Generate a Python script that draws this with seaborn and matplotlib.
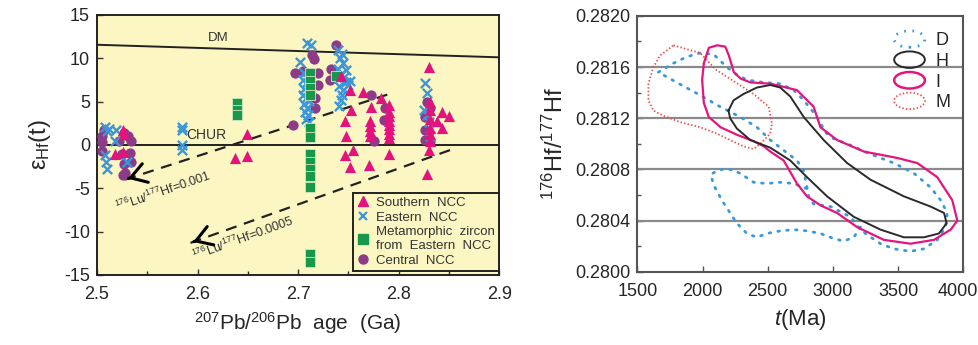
import numpy as np
import pandas as pd
import matplotlib
matplotlib.use("Agg")
import matplotlib.pyplot as plt
import matplotlib.patches as mpatches
import matplotlib.transforms as mtransforms
from matplotlib.lines import Line2D
from matplotlib.legend_handler import HandlerPatch
import seaborn as sns

# ---------------- data: left panel (207Pb/206Pb age vs eHf(t)) ----------------
south_age = [2.526, 2.527, 2.518, 2.526, 2.637, 2.649, 2.649,
             2.743, 2.752, 2.765, 2.753, 2.772, 2.747, 2.771, 2.771, 2.771, 2.771, 2.748,
             2.747, 2.755, 2.752, 2.770, 2.782,
             2.790, 2.790, 2.790, 2.790, 2.790, 2.790, 2.790, 2.790, 2.790,
             2.830, 2.843, 2.843, 2.838, 2.831, 2.831, 2.831, 2.831, 2.831, 2.831, 2.830, 2.828, 2.850]
south_eps = [1.7, 1.2, -1.0, -0.8, -1.5, 1.3, -1.3,
             7.9, 6.3, 6.1, 4.0, 4.4, 2.7, 2.7, 2.2, 1.6, 1.0, 1.0,
             -1.2, -0.6, -2.5, -2.3, 5.4,
             4.6, 3.8, 3.3, 2.8, 2.3, 1.8, 1.3, 0.8, -1.0,
             9.0, 3.8, 1.9, 2.7, 5.0, 4.0, 3.0, 2.0, 1.2, 0.5, -0.6, -3.3, 3.3]

east_age = [2.508, 2.510, 2.508, 2.509, 2.510, 2.512, 2.518, 2.519, 2.530,
            2.585, 2.585, 2.585, 2.585,
            2.709, 2.713, 2.702, 2.706, 2.709, 2.705, 2.708, 2.711, 2.706, 2.709, 2.705,
            2.708, 2.711, 2.706, 2.709, 2.707, 2.710, 2.708, 2.711,
            2.740, 2.744, 2.742, 2.745, 2.740, 2.743, 2.746, 2.748, 2.741, 2.745, 2.744,
            2.743, 2.741, 2.748, 2.750, 2.752,
            2.826, 2.828, 2.825, 2.828, 2.830, 2.831]
east_eps = [2.1, 1.6, -1.2, -2.0, -2.8, 1.8, 0.4, 1.7, -2.0,
            2.1, 1.7, 0.0, -0.6,
            11.7, 11.5, 9.6, 8.3, 7.9, 7.5, 7.1, 6.8, 6.5, 6.1, 5.8,
            5.4, 5.1, 4.7, 4.3, 3.8, 3.4, 3.0, 2.6,
            11.0, 10.5, 10.0, 9.4, 8.8, 8.2, 7.8, 7.2, 6.8, 6.3, 5.8,
            5.2, 4.5, 8.6, 6.9, 7.4,
            7.1, 6.0, 4.0, 3.5, 2.6, 1.0]

meta_age = [2.639, 2.639, 2.639,
            2.712, 2.712, 2.712, 2.712,
            2.712, 2.712, 2.712, 2.712, 2.712, 2.712, 2.712, 2.712, 2.712,
            2.738]
meta_eps = [4.8, 4.0, 3.4,
            8.3, 7.4, 6.6, 5.8,
            1.9, 0.9, -1.0, -2.0, -2.8, -3.6, -4.9, -12.6, -13.5,
            8.0]

central_age = [2.505, 2.505, 2.505, 2.507, 2.522, 2.527, 2.531, 2.534, 2.534, 2.527,
               2.533, 2.528, 2.526, 2.525,
               2.695, 2.697, 2.705, 2.714, 2.716, 2.720, 2.720, 2.717, 2.717,
               2.738, 2.733, 2.732,
               2.772, 2.775, 2.786, 2.785,
               2.828, 2.831, 2.826, 2.826, 2.826, 2.831]
central_eps = [1.0, 0.3, -0.7, 1.7, 0.5, 1.4, 1.0, 0.5, -2.0, -2.2,
               -0.9, -3.2, -3.5, -1.0,
               2.3, 8.3, 8.5, 10.4, 9.9, 8.3, 6.9, 5.4, 4.2,
               11.5, 8.8, 7.5,
               5.8, 0.4, 4.2, 2.9,
               5.0, 4.3, 3.2, 1.7, 0.6, 0.5]

dm_age = [2.5, 2.9]
dm_eps = [11.55, 10.1]
lu001_age = [2.528, 2.793]
lu001_eps = [-4.0, 5.96]
lu0005_age = [2.593, 2.851]
lu0005_eps = [-11.3, -0.6]

# ---------------- data: right panel contours (t Ma, 176Hf/177Hf) ----------------
d_main_t = [1661, 1777, 1879, 1982, 2084, 2186, 2263, 2340, 2468, 2596, 2699, 2776, 2840, 2891,
            2942, 3006, 3134, 3288, 3467, 3621, 3749, 3826, 3877, 3864, 3800, 3698, 3595, 3467,
            3365, 3262, 3211, 3134, 2981, 2852, 2814, 2801, 2776, 2724, 2520, 2417, 2289, 2135,
            1982, 1802]
d_main_r = [0.28156, 0.28163, 0.28168, 0.28171, 0.28170, 0.28160, 0.28154, 0.28150, 0.28148,
            0.28147, 0.28142, 0.28134, 0.28126, 0.28119, 0.28109, 0.28104, 0.28099, 0.28092,
            0.28085, 0.28077, 0.28066, 0.28056, 0.28046, 0.28035, 0.28025, 0.28018, 0.28016,
            0.28018, 0.28022, 0.28029, 0.28033, 0.28043, 0.28051, 0.28053, 0.28059, 0.28066,
            0.28079, 0.28087, 0.28103, 0.28113, 0.28121, 0.28129, 0.28138, 0.28148]
d_lobe_t = [3211, 3160, 3083, 3006, 2904, 2801, 2699, 2596, 2494, 2417, 2340, 2263, 2212, 2148,
            2084, 2064, 2110, 2186, 2289, 2391, 2494, 2596, 2699, 2801]
d_lobe_r = [0.28035, 0.28027, 0.28024, 0.28026, 0.28030, 0.28032, 0.28033, 0.28032, 0.28030,
            0.28027, 0.28030, 0.28038, 0.28046, 0.28056, 0.28068, 0.28076, 0.28079, 0.28081,
            0.28077, 0.28070, 0.28069, 0.28070, 0.28069, 0.28065]
h_t = [2199, 2238, 2315, 2417, 2520, 2596, 2673, 2776, 2929, 3109, 3288, 3544, 3749, 3852, 3872,
       3813, 3698, 3544, 3365, 3160, 2955, 2801, 2673, 2520, 2366, 2263, 2212]
h_r = [0.28126, 0.28134, 0.28139, 0.28144, 0.28146, 0.28144, 0.28137, 0.28121, 0.28103, 0.28085,
       0.28072, 0.28059, 0.28051, 0.28046, 0.28038, 0.28030, 0.28027, 0.28027, 0.28033, 0.28043,
       0.28059, 0.28074, 0.28087, 0.28097, 0.28103, 0.28112, 0.28120]
i_t = [2010, 2048, 2112, 2174, 2202, 2240, 2292, 2368, 2522, 2724, 2852, 2904, 3032, 3237, 3493,
       3647, 3800, 3915, 3954, 3903, 3775, 3595, 3390, 3185, 3032, 2904, 2801, 2724, 2622, 2520,
       2471, 2394, 2266, 2138, 2048, 2010, 1997]
i_r = [0.28163, 0.28175, 0.28177, 0.28176, 0.28169, 0.28156, 0.28151, 0.28148, 0.28147, 0.28142,
       0.28129, 0.28113, 0.28103, 0.28094, 0.28089, 0.28085, 0.28074, 0.28056, 0.28040, 0.28033,
       0.28025, 0.28022, 0.28025, 0.28035, 0.28046, 0.28052, 0.28059, 0.28069, 0.28087, 0.28094,
       0.28098, 0.28102, 0.28107, 0.28113, 0.28121, 0.28132, 0.28150]
m_t = [1777, 1982, 2102, 2391, 2507, 2532, 2519, 2443, 2391, 2315, 2212, 2110, 1982, 1828, 1700,
       1623, 1585, 1585, 1623, 1674]
m_r = [0.28177, 0.28171, 0.28158, 0.28139, 0.28129, 0.28116, 0.28108, 0.28100, 0.28096, 0.28098,
       0.28103, 0.28108, 0.28113, 0.28117, 0.28122, 0.28126, 0.28134, 0.28147, 0.28160, 0.28169]

# ---------------- style ----------------
sns.set_theme(style="white")
plt.rcParams["font.family"] = ["Liberation Sans", "DejaVu Sans"]
plt.rcParams["mathtext.fontset"] = "custom"
plt.rcParams["mathtext.rm"] = "Liberation Sans"
plt.rcParams["mathtext.it"] = "Liberation Sans:italic"
plt.rcParams["mathtext.bf"] = "Liberation Sans:bold"
plt.rcParams["axes.unicode_minus"] = False

PINK = "#e3127d"
BLUE = "#3b97d9"
GREEN = "#17984a"
PURPLE = "#8c3b88"
YELLOW = "#fcf6c2"

fig = plt.figure(figsize=(9.79, 3.45), dpi=100)
ax1 = fig.add_axes([0.099, 0.203, 0.411, 0.754])
ax2 = fig.add_axes([0.651, 0.212, 0.333, 0.742])

# ---------------- left panel ----------------
ax1.set_facecolor(YELLOW)
sns.lineplot(x=dm_age, y=dm_eps, color="#222222", lw=1.4, ax=ax1, zorder=2)
ax1.axhline(0, color="#222222", lw=1.4, zorder=2)
sns.lineplot(x=lu001_age, y=lu001_eps, color="#222222", lw=1.6, ax=ax1, zorder=2,
             linestyle=(0, (5, 3.5)))
sns.lineplot(x=lu0005_age, y=lu0005_eps, color="#222222", lw=1.6, ax=ax1, zorder=2,
             linestyle=(0, (5, 3.5)))
for xs, ys in [(lu001_age, lu001_eps), (lu0005_age, lu0005_eps)]:
    slope = (ys[1] - ys[0]) / (xs[1] - xs[0])
    ax1.annotate("", xy=(xs[0], ys[0]), xytext=(xs[0] + 0.006, ys[0] + slope * 0.006),
                 arrowprops=dict(arrowstyle="->,head_length=0.8,head_width=0.5",
                                 lw=2.2, color="black", mutation_scale=14), zorder=4)

df_c = pd.DataFrame({"age": central_age, "eps": central_eps})
df_e = pd.DataFrame({"age": east_age, "eps": east_eps})
df_m = pd.DataFrame({"age": meta_age, "eps": meta_eps})
df_s = pd.DataFrame({"age": south_age, "eps": south_eps})
sns.scatterplot(data=df_c, x="age", y="eps", marker="o", color=PURPLE, s=55,
                linewidth=0, ax=ax1, zorder=3, legend=False)
sns.scatterplot(data=df_e, x="age", y="eps", marker="x", color=BLUE, s=45,
                linewidth=1.7, ax=ax1, zorder=4, legend=False)
sns.scatterplot(data=df_m, x="age", y="eps", marker="s", color=GREEN, s=55,
                linewidth=0.6, edgecolor="#cfe9c0", ax=ax1, zorder=5, legend=False)
sns.scatterplot(data=df_s, x="age", y="eps", marker="^", color=PINK, s=65,
                linewidth=0, ax=ax1, zorder=5, legend=False)

ax1.text(2.621, 12.3, "DM", fontsize=9.5, color="#333333", ha="center", va="center")
ax1.text(2.589, 1.15, "CHUR", fontsize=10, color="#333333", ha="left", va="center")
ax1.text(2.521, -8.1, r"$^{176}$Lu/$^{177}$Hf=0.001", fontsize=9, color="#333333",
         rotation=19, rotation_mode="anchor", ha="left", va="bottom")
ax1.text(2.598, -13.7, r"$^{176}$Lu/$^{177}$Hf=0.0005", fontsize=9, color="#333333",
         rotation=20, rotation_mode="anchor", ha="left", va="bottom")

ax1.set_xlim(2.5, 2.9)
ax1.set_ylim(-15, 15)
ax1.set_xticks([2.5, 2.6, 2.7, 2.8, 2.9])
ax1.set_xticklabels(["2.5", "2.6", "2.7", "2.8", "2.9"])
ax1.set_xticks([2.55, 2.65, 2.75, 2.85], minor=True)
ax1.set_yticks([-15, -10, -5, 0, 5, 10, 15])
ax1.tick_params(axis="both", which="major", labelsize=13, direction="in", length=4,
                width=1, color="#333333")
ax1.tick_params(axis="x", which="major", pad=8)
ax1.tick_params(axis="y", which="major", pad=5)
ax1.tick_params(axis="x", which="minor", direction="in", length=3, width=1, bottom=True)
ax1.tick_params(axis="y", left=True)
ax1.tick_params(axis="x", bottom=True)
for sp in ax1.spines.values():
    sp.set_color("#222222")
    sp.set_linewidth(1.4)
ax1.set_xlabel(r"$^{207}$Pb/$^{206}$Pb  age  (Ga)", fontsize=15, labelpad=5)
ax1.set_ylabel(r"$\mathregular{\varepsilon_{Hf}}$(t)", fontsize=17, labelpad=8)

handles = [
    Line2D([], [], marker="^", color=PINK, linestyle="none", markersize=7),
    Line2D([], [], marker="x", color=BLUE, linestyle="none", markersize=6, markeredgewidth=1.6),
    Line2D([], [], marker="s", color=GREEN, linestyle="none", markersize=6.5),
    Line2D([], [], marker="o", color=PURPLE, linestyle="none", markersize=6.5),
]
labels = ["Southern  NCC", "Eastern  NCC", "Metamorphic  zircon\nfrom  Eastern  NCC", "Central  NCC"]
leg = ax1.legend(handles, labels, loc="lower right", bbox_to_anchor=(1.0, 0.015),
                 fontsize=9.5, frameon=True, fancybox=False, facecolor=YELLOW,
                 edgecolor="#222222", framealpha=1, labelspacing=0.2, handletextpad=0.5,
                 handlelength=1.0, borderpad=0.3, borderaxespad=0.0)
leg.get_frame().set_linewidth(1.4)
for t in leg.get_texts():
    t.set_color("#333333")

# ---------------- right panel ----------------
for yv in [0.2804, 0.2808, 0.2812, 0.2816]:
    ax2.axhline(yv, color="#8a8a8a", lw=1.6, zorder=1)

def closed(xs, ys):
    return pd.DataFrame({"t": list(xs) + [xs[0]], "r": list(ys) + [ys[0]]})

dot_d = dict(color="#3a9ad6", lw=2.0, linestyle=(0, (0.6, 2.6)), dash_capstyle="round")
sns.lineplot(data=closed(d_main_t, d_main_r), x="t", y="r", sort=False, estimator=None,
             ax=ax2, zorder=2, **dot_d)
sns.lineplot(data=pd.DataFrame({"t": d_lobe_t, "r": d_lobe_r}), x="t", y="r", sort=False,
             estimator=None, ax=ax2, zorder=2, **dot_d)
sns.lineplot(data=closed(m_t, m_r), x="t", y="r", sort=False, estimator=None, ax=ax2,
             color="#e8504a", lw=1.3, linestyle=(0, (0.8, 1.2)), zorder=2)
sns.lineplot(data=closed(i_t, i_r), x="t", y="r", sort=False, estimator=None, ax=ax2,
             color="#e5157f", lw=1.6, zorder=3)
sns.lineplot(data=closed(h_t, h_r), x="t", y="r", sort=False, estimator=None, ax=ax2,
             color="#2a2a2a", lw=1.4, zorder=3)

ax2.set_xlim(1500, 4000)
ax2.set_ylim(0.2800, 0.2820)
ax2.set_xticks([1500, 2000, 2500, 3000, 3500, 4000])
ax2.set_xticklabels(["1500", "2000", "2500", "3000", "3500", "4000"])
ax2.set_yticks([0.2800, 0.2804, 0.2808, 0.2812, 0.2816, 0.2820])
ax2.set_yticklabels(["0.2800", "0.2804", "0.2808", "0.2812", "0.2816", "0.2820"])
ax2.set_yticks(np.arange(0.2802, 0.2820, 0.0004), minor=True)
ax2.tick_params(axis="both", which="major", labelsize=13, direction="in", length=4,
                width=1, color="#555555")
ax2.tick_params(axis="x", which="major", pad=8)
ax2.tick_params(axis="y", which="major", pad=5)
ax2.tick_params(axis="y", which="minor", direction="in", length=3, width=1, left=True,
                color="#555555")
ax2.tick_params(axis="y", left=True)
ax2.tick_params(axis="x", bottom=True)
last = ax2.get_xticklabels()[-1]
last.set_transform(last.get_transform() + mtransforms.ScaledTranslation(-6 / 100, 0, fig.dpi_scale_trans))
for sp in ax2.spines.values():
    sp.set_color("#555555")
    sp.set_linewidth(1.5)
ax2.set_xlabel(r"$\mathit{t}$(Ma)", fontsize=16, labelpad=5)
ax2.set_ylabel(r"$^{176}$Hf/$^{177}$Hf", fontsize=17, labelpad=5)


class HandlerEllipse(HandlerPatch):
    def create_artists(self, legend, orig_handle, xdescent, ydescent, width, height,
                       fontsize, trans):
        center = (0.5 * width - xdescent, 0.5 * height - ydescent)
        p = mpatches.Ellipse(xy=center, width=width, height=height * 1.25)
        self.update_prop(p, orig_handle, legend)
        p.set_transform(trans)
        return [p]


lh = [
    mpatches.Patch(facecolor="none", edgecolor="#3a9ad6", linewidth=2.0, linestyle=(0, (0.6, 2.4))),
    mpatches.Patch(facecolor="none", edgecolor="#2a2a2a", linewidth=1.4),
    mpatches.Patch(facecolor="none", edgecolor="#e5157f", linewidth=1.8),
    mpatches.Patch(facecolor="none", edgecolor="#e8504a", linewidth=1.3, linestyle=(0, (0.8, 1.2))),
]
leg2 = ax2.legend(lh, ["D", "H", "I", "M"], loc="upper right", bbox_to_anchor=(1.0, 0.985),
                  fontsize=13, frameon=False, labelspacing=0.2, handlelength=1.7,
                  handleheight=0.75, handletextpad=0.6, borderaxespad=0.3,
                  handler_map={h: HandlerEllipse() for h in lh})

fig.savefig("out.png", dpi=100)
